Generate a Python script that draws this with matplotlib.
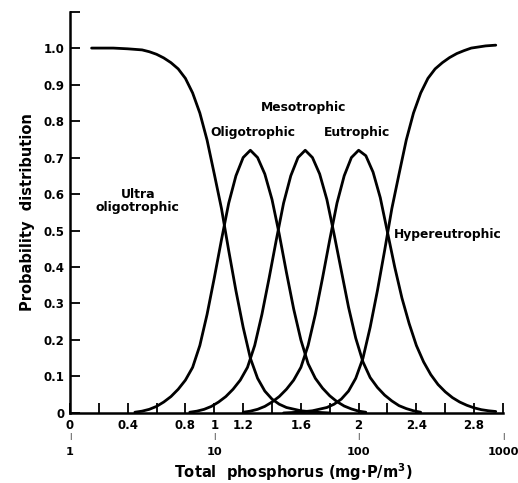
# Trophic state probability curves vs. total phosphorus (log scale shown as log10 axis)

import matplotlib.pyplot as plt
import matplotlib.transforms as mtransforms

# Curves (x = log10 of total phosphorus)
ultra_x = [0.15, 0.30, 0.40, 0.50, 0.55, 0.60, 0.65, 0.70, 0.75, 0.80, 0.85, 0.90, 0.95,
           1.00, 1.05, 1.10, 1.15, 1.20, 1.25, 1.30, 1.35, 1.40, 1.45, 1.50, 1.60, 1.70, 1.80]
ultra_y = [1.0, 1.0, 0.998, 0.995, 0.99, 0.983, 0.973, 0.96, 0.943, 0.917, 0.877, 0.822, 0.748,
           0.655, 0.56, 0.445, 0.335, 0.235, 0.15, 0.095, 0.06, 0.038, 0.024, 0.015, 0.006, 0.002, 0.0]

oligo_x = [0.45, 0.50, 0.55, 0.60, 0.65, 0.70, 0.75, 0.80, 0.85, 0.90, 0.95, 1.00, 1.05, 1.10,
           1.15, 1.20, 1.25, 1.30, 1.35, 1.40, 1.45, 1.50, 1.55, 1.60, 1.65, 1.70, 1.75, 1.80,
           1.85, 1.90, 1.95, 2.00, 2.05]
oligo_y = [0.002, 0.005, 0.01, 0.018, 0.03, 0.045, 0.065, 0.09, 0.125, 0.185, 0.27, 0.37, 0.475,
           0.575, 0.65, 0.70, 0.72, 0.70, 0.655, 0.585, 0.49, 0.385, 0.285, 0.20, 0.135, 0.095,
           0.068, 0.047, 0.031, 0.019, 0.011, 0.005, 0.002]

meso_x = [0.83, 0.88, 0.93, 0.98, 1.03, 1.08, 1.13, 1.18, 1.23, 1.28, 1.33, 1.38, 1.43, 1.48,
          1.53, 1.58, 1.63, 1.68, 1.73, 1.78, 1.83, 1.88, 1.93, 1.98, 2.03, 2.08, 2.13, 2.18,
          2.23, 2.28, 2.33, 2.38, 2.43]
meso_y = [0.002, 0.005, 0.01, 0.018, 0.03, 0.045, 0.065, 0.09, 0.125, 0.185, 0.27, 0.37, 0.475,
          0.575, 0.65, 0.70, 0.72, 0.70, 0.655, 0.585, 0.49, 0.39, 0.29, 0.205, 0.14, 0.097,
          0.07, 0.049, 0.033, 0.02, 0.012, 0.006, 0.002]

eu_x = [1.20, 1.25, 1.30, 1.35, 1.40, 1.45, 1.50, 1.55, 1.60, 1.65, 1.70, 1.75, 1.80, 1.85,
        1.90, 1.95, 2.00, 2.05, 2.10, 2.15, 2.20, 2.25, 2.30, 2.35, 2.40, 2.45, 2.50, 2.55,
        2.60, 2.65, 2.70, 2.75, 2.80, 2.85, 2.90, 2.95]
eu_y = [0.002, 0.005, 0.01, 0.018, 0.03, 0.045, 0.065, 0.09, 0.125, 0.185, 0.27, 0.37, 0.475,
        0.575, 0.65, 0.70, 0.72, 0.705, 0.66, 0.59, 0.495, 0.40, 0.315, 0.245, 0.185, 0.14,
        0.105, 0.078, 0.058, 0.042, 0.03, 0.021, 0.014, 0.009, 0.006, 0.004]

hyper_x = [1.48, 1.58, 1.68, 1.78, 1.83, 1.88, 1.93, 1.98, 2.03, 2.08, 2.13, 2.18, 2.23, 2.28,
           2.33, 2.38, 2.43, 2.48, 2.53, 2.58, 2.63, 2.68, 2.73, 2.78, 2.88, 2.95]
hyper_y = [0.0, 0.002, 0.006, 0.015, 0.024, 0.038, 0.06, 0.095, 0.15, 0.235, 0.335, 0.445, 0.56,
           0.655, 0.748, 0.822, 0.877, 0.917, 0.943, 0.96, 0.974, 0.985, 0.993, 1.0, 1.006, 1.008]

# Class labels and where they sit
class_labels = ["Ultra\noligotrophic", "Oligotrophic", "Mesotrophic", "Eutrophic", "Hypereutrophic"]
label_x = [0.47, 1.27, 1.62, 1.99, 2.62]
label_y = [0.58, 0.768, 0.836, 0.768, 0.49]
label_size = [9, 8.8, 8.8, 8.8, 8.8]

# Axis ticks
x_ticks = [0, 0.2, 0.4, 0.6, 0.8, 1.0, 1.2, 1.4, 1.6, 1.8, 2.0, 2.2, 2.4, 2.6, 2.8, 3.0]
x_labels = ["0", "", "0.4", "", "0.8", "1", "1.2", "", "1.6", "", "2", "", "2.4", "", "2.8", ""]
conc_pos = [0, 1, 2, 3]
conc_labels = ["1", "10", "100", "1000"]
y_ticks = [0, 0.1, 0.2, 0.3, 0.4, 0.5, 0.6, 0.7, 0.8, 0.9, 1.0, 1.1]
y_labels = ["0", "0.1", "0.2", "0.3", "0.4", "0.5", "0.6", "0.7", "0.8", "0.9", "1.0", ""]

fig = plt.figure(figsize=(5.18, 4.83), dpi=100)
ax = fig.add_axes([0.135, 0.145, 0.836, 0.831])

for xs, ys in [(ultra_x, ultra_y), (oligo_x, oligo_y), (meso_x, meso_y),
               (eu_x, eu_y), (hyper_x, hyper_y)]:
    ax.plot(xs, ys, color="black", linewidth=2.0, solid_capstyle="round",
            solid_joinstyle="round")

for txt, tx, ty, fs in zip(class_labels, label_x, label_y, label_size):
    ax.text(tx, ty, txt, ha="center", va="center", fontsize=fs, fontweight="bold",
            linespacing=1.0)

ax.set_xlim(0, 3.0)
ax.set_ylim(0, 1.1)
ax.set_xticks(x_ticks)
ax.set_xticklabels(x_labels)
ax.set_yticks(y_ticks)
ax.set_yticklabels(y_labels)
ax.tick_params(direction="in", length=7, width=1.3, labelsize=8.5, pad=4)
for lab in ax.get_xticklabels() + ax.get_yticklabels():
    lab.set_fontweight("bold")

for side in ["top", "right"]:
    ax.spines[side].set_visible(False)
for side in ["left", "bottom"]:
    ax.spines[side].set_linewidth(1.8)

# second row of x labels: concentration in mg P / m3
trans = mtransforms.blended_transform_factory(ax.transData, ax.transAxes)
for pos, lab in zip(conc_pos, conc_labels):
    ax.text(pos, -0.058, "|", transform=trans, ha="center", va="center", fontsize=5)
    ax.text(pos, -0.097, lab, transform=trans, ha="center", va="center",
            fontsize=8.2, fontweight="bold")

ax.text(0.515, -0.147, "Total  phosphorus (mg·P/m$^{\\mathbf{3}}$)", transform=ax.transAxes,
        ha="center", va="center", fontsize=10.5, fontweight="bold")
ax.set_ylabel("Probability  distribution", fontsize=10.5, fontweight="bold", labelpad=6)

fig.savefig("out.png", dpi=100)
